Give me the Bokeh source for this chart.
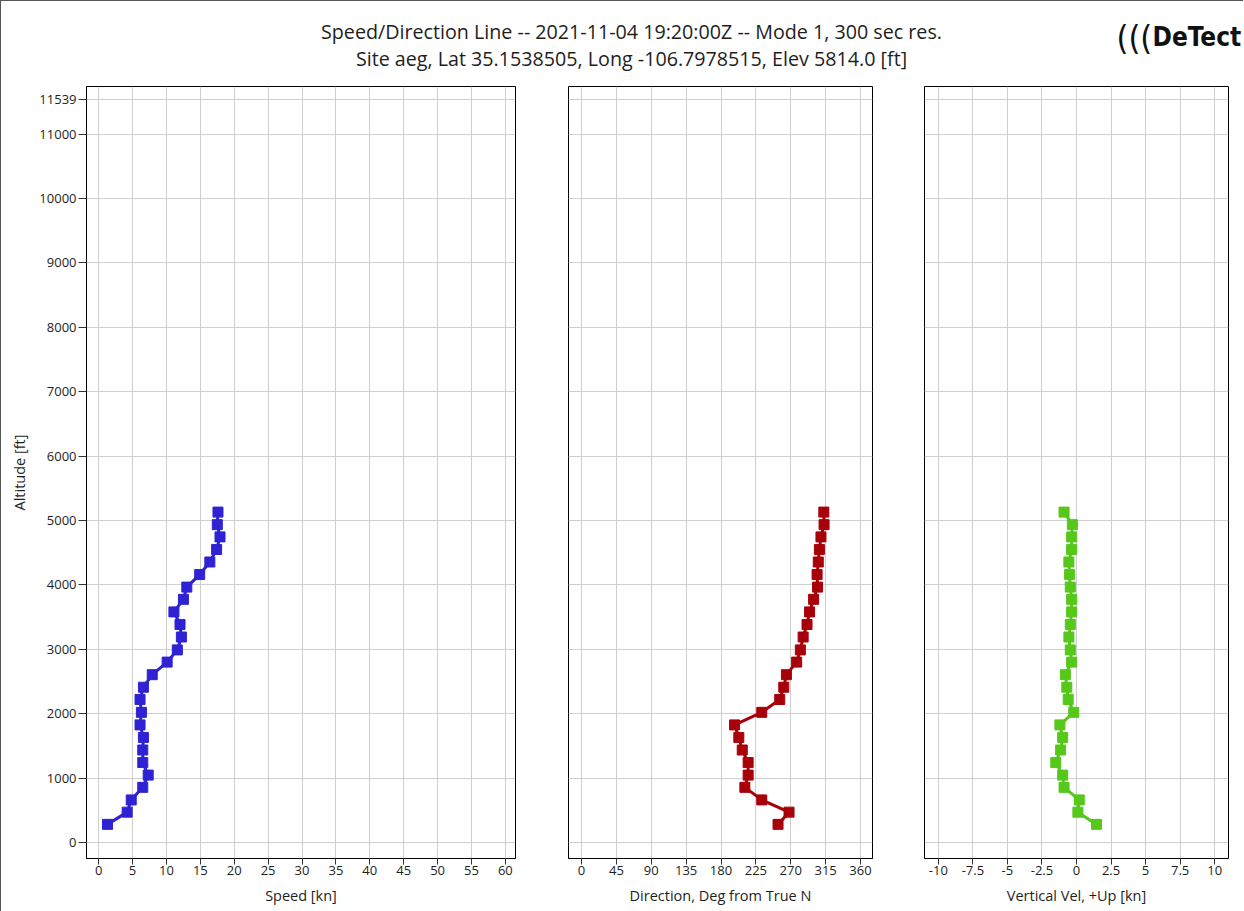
from bokeh.plotting import figure
from bokeh.models import Range1d, FixedTicker, CustomJSTickFormatter, ColumnDataSource
from bokeh.layouts import column, row
from bokeh.embed import file_html
from bokeh.resources import INLINE
from bokeh.core.properties import value

# ---- data ----
altitude_ft = [5130, 4935, 4745, 4550, 4355, 4160, 3965, 3775, 3580, 3385, 3190, 2990, 2800,
               2605, 2410, 2220, 2020, 1825, 1630, 1435, 1240, 1045, 855, 660, 470, 280]
speed_kn = [17.6, 17.5, 17.9, 17.4, 16.4, 14.9, 13.0, 12.5, 11.1, 12.0, 12.2, 11.6, 10.1,
            7.9, 6.6, 6.1, 6.3, 6.1, 6.6, 6.5, 6.5, 7.3, 6.5, 4.8, 4.2, 1.3]
direction_deg = [312.7, 313.0, 309.0, 307.0, 305.5, 304.0, 304.6, 299.5, 294.3, 291.0, 286.0, 282.4, 277.6,
                 264.4, 261.0, 255.8, 232.6, 197.5, 203.0, 207.4, 215.0, 215.0, 210.8, 232.6, 267.8, 253.6]
vertical_kn = [-0.9, -0.3, -0.35, -0.35, -0.55, -0.5, -0.45, -0.35, -0.35, -0.45, -0.55, -0.45, -0.35,
               -0.8, -0.7, -0.6, -0.2, -1.2, -1.0, -1.15, -1.5, -1.0, -0.9, 0.2, 0.1, 1.45]

altitude_ticks = [0, 1000, 2000, 3000, 4000, 5000, 6000, 7000, 8000, 9000, 10000, 11000, 11539]
speed_ticks = [0, 5, 10, 15, 20, 25, 30, 35, 40, 45, 50, 55, 60]
direction_ticks = [0, 45, 90, 135, 180, 225, 270, 315, 360]
vertical_ticks = [-10, -7.5, -5, -2.5, 0, 2.5, 5, 7.5, 10]

title_lines = ["Speed/Direction Line -- 2021-11-04 19:20:00Z -- Mode 1, 300 sec res.",
               "Site aeg, Lat 35.1538505, Long -106.7978515, Elev 5814.0 [ft]"]
logo_parts = ["(((", "DeTect"]

FONT = "Open Sans"
LOGO_FONT = "DejaVu Sans Condensed, DejaVu Sans, sans-serif"
TXT = "#1e1e1e"
GRID = "#cfcfcf"
TICK_FS = "13px"
LABEL_FS = "14.5px"

src = ColumnDataSource(dict(alt=altitude_ft, spd=speed_kn, dirn=direction_deg, vv=vertical_kn))
y_range = Range1d(-250, 11740)


def fmt():
    return CustomJSTickFormatter(code="return String(tick);")


def style_axis(a, label, label_standoff, tick_out, label_gap):
    a.axis_label = label
    a.axis_label_text_font = FONT
    a.axis_label_text_font_size = LABEL_FS
    a.axis_label_text_font_style = "normal"
    a.axis_label_text_color = TXT
    a.axis_label_standoff = label_standoff
    a.major_label_text_font = FONT
    a.major_label_text_font_size = TICK_FS
    a.major_label_text_color = TXT
    a.major_label_standoff = label_gap
    a.major_tick_out = tick_out
    a.major_tick_in = 0
    a.minor_tick_out = 0
    a.minor_tick_in = 0
    a.axis_line_color = "black"
    a.major_tick_line_color = "#333333"
    a.formatter = fmt()


def panel(xcol, xr, xticks, xlabel, color, width, bl, br, show_y):
    p = figure(width=width, height=833, x_range=Range1d(*xr), y_range=y_range,
               output_backend="svg", toolbar_location=None,
               min_border_left=bl, min_border_right=br, min_border_top=8, min_border_bottom=53,
               y_axis_location="left" if show_y else None)
    p.background_fill_color = "white"
    p.border_fill_color = "white"
    p.outline_line_color = "black"
    p.outline_line_width = 1

    ax = p.xaxis[0]
    ax.ticker = FixedTicker(ticks=xticks)
    style_axis(ax, xlabel, 8, 6, 1)

    if show_y:
        ay = p.yaxis[0]
        ay.ticker = FixedTicker(ticks=altitude_ticks)
        style_axis(ay, "Altitude [ft]", 7, 8, 2)

    p.xgrid.ticker = FixedTicker(ticks=xticks)
    p.ygrid.ticker = FixedTicker(ticks=altitude_ticks)
    p.grid.grid_line_color = GRID
    p.grid.grid_line_width = 1

    p.line(x=xcol, y="alt", source=src, line_color=color, line_width=3)
    p.scatter(x=xcol, y="alt", source=src, marker="square", size=10,
              fill_color=color, line_color=color)
    return p


p1 = panel("spd", (-1.8, 61.5), speed_ticks, "Speed [kn]", "#2f22d4", 540, 85, 26, True)
p2 = panel("dirn", (-16.8, 375.5), direction_ticks, "Direction, Deg from True N", "#a8000a", 357, 27, 26, False)
p3 = panel("vv", (-11.0, 11.0), vertical_ticks, "Vertical Vel, +Up [kn]", "#55c81a", 345, 26, 15, False)

hdr = figure(width=1242, height=77, x_range=Range1d(0, 1242), y_range=Range1d(77, 0),
             output_backend="svg", toolbar_location=None, min_border=0,
             x_axis_location=None, y_axis_location=None)
hdr.grid.visible = False
hdr.outline_line_color = None
hdr.background_fill_color = "white"
hdr.border_fill_color = "white"
hdr.text(x=[630, 630], y=[30, 57], text=title_lines, text_align="center", text_baseline="middle",
         text_font=value(FONT), text_font_size="19.7px", text_color=TXT)
hdr.text(x=[1115], y=[36], text=[logo_parts[0]], text_align="left", text_baseline="middle",
         text_font=value(LOGO_FONT), text_font_size="34px", text_color="#111111")
hdr.text(x=[1151], y=[35], text=[logo_parts[1]], text_align="left", text_baseline="middle",
         text_font=value(LOGO_FONT), text_font_style="bold",
         text_font_size="26px", text_color="#111111")

layout = column(hdr, row(p1, p2, p3),
                styles={"border-left": "1px solid #555555", "border-top": "1px solid #555555"})

open("out.html", "w").write(file_html(layout, INLINE))
